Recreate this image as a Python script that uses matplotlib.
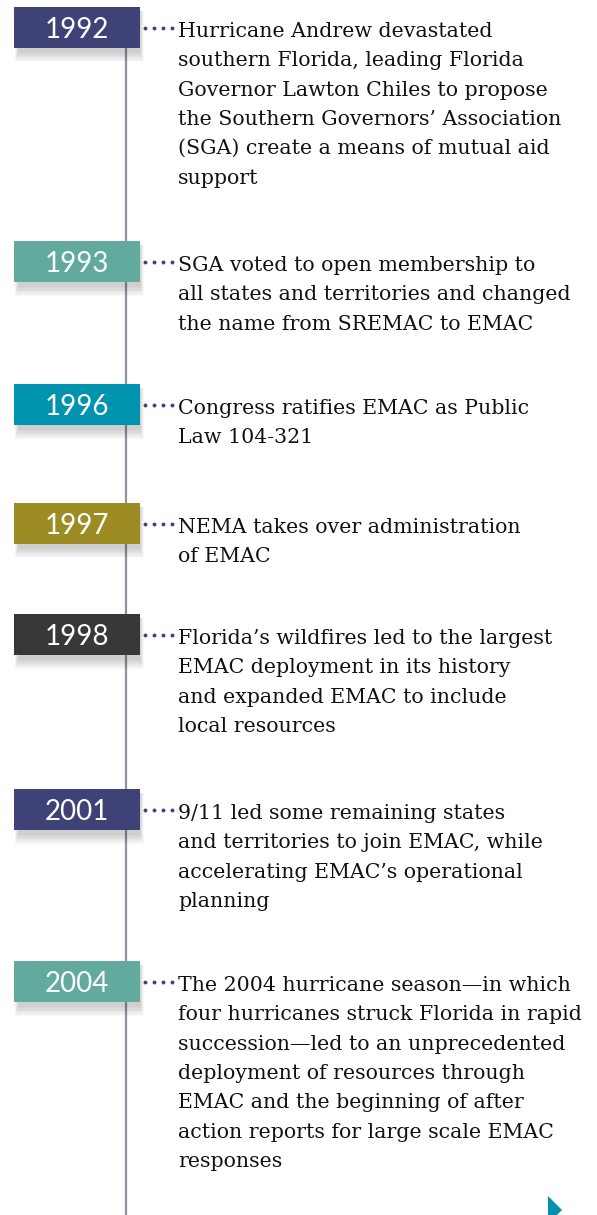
import matplotlib
matplotlib.use("Agg")
import matplotlib.pyplot as plt
from matplotlib.patches import Rectangle, Polygon

years = ["1992", "1993", "1996", "1997", "1998", "2001", "2004"]
descriptions = [
    ["Hurricane Andrew devastated",
     "southern Florida, leading Florida",
     "Governor Lawton Chiles to propose",
     "the Southern Governors\u2019 Association",
     "(SGA) create a means of mutual aid",
     "support"],
    ["SGA voted to open membership to",
     "all states and territories and changed",
     "the name from SREMAC to EMAC"],
    ["Congress ratifies EMAC as Public",
     "Law 104-321"],
    ["NEMA takes over administration",
     "of EMAC"],
    ["Florida\u2019s wildfires led to the largest",
     "EMAC deployment in its history",
     "and expanded EMAC to include",
     "local resources"],
    ["9/11 led some remaining states",
     "and territories to join EMAC, while",
     "accelerating EMAC\u2019s operational",
     "planning"],
    ["The 2004 hurricane season\u2014in which",
     "four hurricanes struck Florida in rapid",
     "succession\u2014led to an unprecedented",
     "deployment of resources through",
     "EMAC and the beginning of after",
     "action reports for large scale EMAC",
     "responses"],
]
box_colors = ["#3e4277", "#63aa9e", "#0093ae", "#9d8b24", "#383838", "#3e4277", "#63aa9e"]

# layout (pixels)
W, H = 597, 1215
box_tops = [7, 241, 384, 503, 614, 789, 961]
box_left, box_right, box_h = 14, 140, 41
line_x = 126
text_x = 178
line_gap = 29.3

fig = plt.figure(figsize=(W / 100, H / 100), dpi=100)
ax = fig.add_axes([0, 0, 1, 1])
ax.set_xlim(0, W)
ax.set_ylim(H, 0)
ax.axis("off")

# vertical timeline
ax.plot([line_x, line_x], [box_tops[0] + box_h, H + 5], color="#8c959f", lw=1.6, zorder=1)

for yr, desc, col, top in zip(years, descriptions, box_colors, box_tops):
    # soft shadow below the box
    for i in range(8):
        ax.add_patch(Rectangle((box_left + 4 - i * 0.5, top + 4),
                               box_right - box_left - 4 + i * 1.0, box_h + 1 + i * 1.3,
                               facecolor="#000000", alpha=0.022, lw=0, zorder=2))
    ax.add_patch(Rectangle((box_left, top), box_right - box_left, box_h,
                           facecolor=col, lw=0, zorder=3))
    ax.text((box_left + box_right) / 2, top + 31, yr, color="white",
            fontsize=20, family="Lato", fontweight="normal",
            ha="center", va="baseline", zorder=4)
    # dotted connector
    ax.plot([145, 154, 163, 171.5], [top + 20.5] * 4, ls="none", marker="o",
            ms=2.8, color="#3e4277", mec="none", zorder=4)
    for i, line in enumerate(desc):
        ax.text(text_x, top + 30 + i * line_gap, line, color="#111111",
                fontsize=14.8, family="DejaVu Serif", ha="left", va="baseline", zorder=4)

# arrow marker at bottom right
ax.add_patch(Polygon([[548, 1196], [548, 1224], [562, 1210]], closed=True,
                     facecolor="#0093ae", lw=0, zorder=4))

fig.savefig("out.png", dpi=100)
